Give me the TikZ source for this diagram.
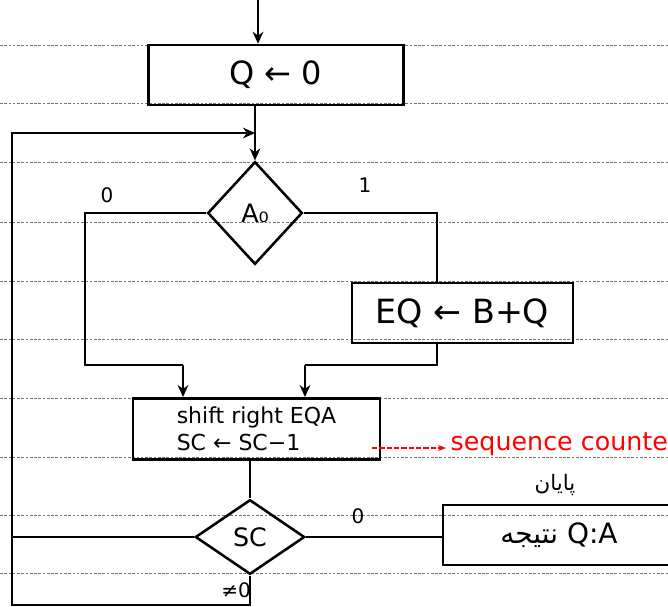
\documentclass[tikz,border=0pt]{standalone}
\usepackage{fontspec}
\setmainfont{DejaVu Sans}
\newfontfamily\arabicfont[Script=Arabic]{DejaVu Sans}
\TeXXeTstate=1
\usetikzlibrary{shapes.geometric,arrows.meta}
\begin{document}
\begin{tikzpicture}[x=0.75pt,y=-0.75pt,
  ink/.style={line width=1.9pt,draw=black},
  arr/.style={ink,-{Stealth[length=9pt,width=8pt]}},
  boxnode/.style={ink,rectangle,inner sep=0pt,align=center},
  decnode/.style={ink,diamond,inner sep=0pt},
  lbl/.style={font=\fontsize{15}{17}\selectfont},
  ruled/.style={draw=black!55,line width=0.7pt,dash pattern=on 2pt off 1.2pt}]
\useasboundingbox (0,0) rectangle (668,607);
\fill[white] (0,0) rectangle (668,607);
% ruled paper
\foreach \yy in {45,103,162,222,281,339,398,457,515,573}
  \draw[ruled] (0,\yy) -- (668,\yy);
% nodes
\coordinate (top) at (258,0);
\node[boxnode,minimum width=191pt,minimum height=45pt,font=\fontsize{24}{28}\selectfont] (b1) at (276,75) {Q ← 0};
\node[decnode,minimum width=71pt,minimum height=77pt,font=\fontsize{19}{21}\selectfont] (A0) at (255,213) {A₀};
\node[boxnode,minimum width=166pt,minimum height=45pt,font=\fontsize{25}{28}\selectfont] (b2) at (462.5,313) {EQ ← B+Q};
\node[boxnode,minimum width=185pt,minimum height=46pt,font=\fontsize{16.5}{20}\selectfont,align=left] (b3) at (256.5,429) {shift right EQA\\ SC ← SC−1};
\node[decnode,minimum width=82pt,minimum height=56pt,font=\fontsize{19}{21}\selectfont] (SC) at (250,537) {SC};
\node[boxnode,minimum width=174pt,minimum height=45pt,font=\fontsize{21}{24}\selectfont] (b4) at (559,535) {{\arabicfont\beginR نتیجه\endR}\ Q:A};
\node[font=\fontsize{16}{18}\selectfont\arabicfont] (end) at (555,485) {\beginR پایان\endR};
\node[text=red,anchor=west,font=\fontsize{19}{22}\selectfont] (seq) at (446,444) {sequence counter};
% coordinates
\coordinate (j1) at (255,133);
\coordinate (lx) at (85,0);
\coordinate (rx) at (437,0);
\coordinate (m1) at (183,365);
\coordinate (m2) at (305,365);
\coordinate (bx) at (12,605);
\coordinate (r1) at (372,448);
% connectors
\draw[arr] (top) -- (top |- b1.north);
\draw[arr] (b1.south -| j1) -- (A0.north);
\draw[ink] (A0.west) -- (A0.west -| lx) -- (lx |- m1) -- (m1);
\draw[arr] (m1) -- (m1 |- b3.north);
\draw[ink] (A0.east) -- (A0.east -| rx) -- (rx |- b2.north);
\draw[ink] (b2.south -| rx) -- (rx |- m2) -- (m2);
\draw[arr] (m2) -- (m2 |- b3.north);
\draw[ink] (b3.south -| SC) -- (SC.north);
\draw[ink] (SC.east) -- (SC.east -| b4.west);
\draw[ink] (SC.west) -- (SC.west -| bx);
\draw[arr] (SC.south) -- (SC.south |- bx) -- (bx) -- (bx |- j1) -- (j1);
\draw[red,line width=1pt,dash pattern=on 4pt off 1.5pt,-{Stealth[length=6pt]}] (r1) -- (seq.west |- r1);
% labels
\node[lbl] (l0a) at (107,195) {0};
\node[lbl] (l1a) at (365,185) {1};
\node[lbl] (l0b) at (358,516) {0};
\node[lbl] (lne) at (236,590) {≠0};
\end{tikzpicture}
\end{document}
